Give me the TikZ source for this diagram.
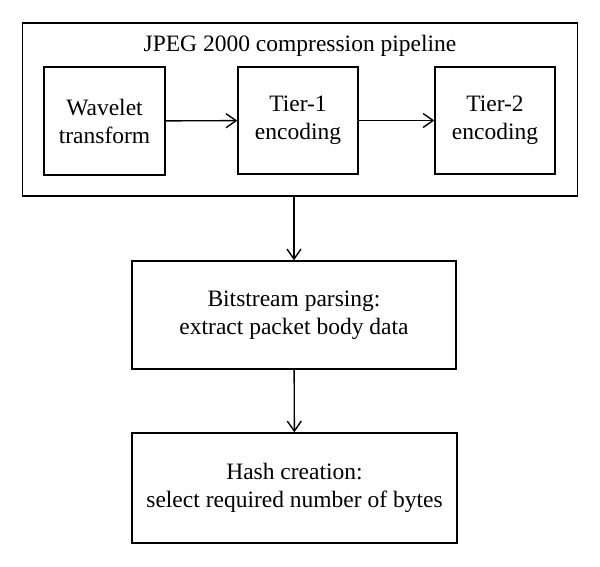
\documentclass[tikz,border=0pt]{standalone}
\usepackage{fontspec}
\setmainfont{Liberation Serif}
\usetikzlibrary{arrows.meta}
\begin{document}
\begin{tikzpicture}[x=1pt,y=-1pt,
  box/.style={draw, line width=1.4pt, inner sep=0pt, align=center,
    font=\fontsize{23.5}{28}\selectfont},
  conn/.style={line width=1.4pt, -{Straight Barb[length=10pt,width=14pt,line width=1.4pt]}}]
\useasboundingbox (0,0) rectangle (600,567);
\node[box, minimum width=554.5pt, minimum height=173pt] (outer) at (300,109.5) {};
\node[font=\fontsize{23.5}{28}\selectfont, anchor=base] (title) at (300,52) {JPEG 2000 compression pipeline};
\node[box, minimum width=121pt, minimum height=108pt] (wav) at (104.5,121) {Wavelet\\transform};
\node[box, minimum width=120pt, minimum height=107pt] (t1) at (298,120.5) {Tier-1\\encoding};
\node[box, minimum width=120pt, minimum height=107pt] (t2) at (495,120.5) {Tier-2\\encoding};
\node[box, minimum width=324pt, minimum height=108pt] (bit) at (294,315) {Bitstream parsing:\\extract packet body data};
\node[box, minimum width=325pt, minimum height=110pt] (hash) at (294.5,488) {Hash creation:\\select required number of bytes};
\draw[conn] (wav) -- (t1);
\draw[conn] (t1) -- (t2);
\draw[conn] (outer.south -| bit.north) -- (bit.north);
\draw[conn] (bit) -- (hash);
\end{tikzpicture}
\end{document}
